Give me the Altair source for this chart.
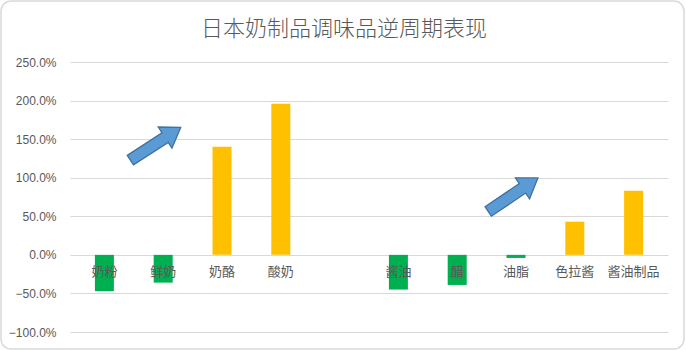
import altair as alt
import pandas as pd

title = "日本奶制品调味品逆周期表现"
categories = ["奶粉", "鲜奶", "奶酪", "酸奶", "", "酱油", "醋", "油脂", "色拉酱", "酱油制品"]
values = [-0.47, -0.36, 1.40, 1.96, None, -0.45, -0.39, -0.04, 0.43, 0.83]
y_ticks = [-1.0, -0.5, 0.0, 0.5, 1.0, 1.5, 2.0, 2.5]

# arrow annotations (position in category index / value units, rotation)
arrow_x = [0.87, 6.95]
arrow_y = [1.44, 0.78]
arrow_angle = [327, 326]

rows = []
for i, (c, v) in enumerate(zip(categories, values)):
    rows.append({"idx": i, "cat": c, "val": v,
                 "color": ("neg" if (v is not None and v < 0) else "pos")})
df = pd.DataFrame(rows)
bars_df = df[df["val"].notna()]
arrows_df = pd.DataFrame({"x": arrow_x, "y": arrow_y, "a": arrow_angle})

FONT = "Noto Sans CJK SC"
xscale = alt.Scale(domain=[-0.5, 9.5], nice=False, zero=False)
yscale = alt.Scale(domain=[-1.0, 2.5], nice=False)
yaxis = alt.Axis(format=".1%", values=y_ticks,
                 grid=True, gridColor="#D9D9D9", gridWidth=1,
                 domain=False, ticks=False, labelColor="#595959",
                 labelFontSize=12, labelPadding=14, title=None,
                 labelFont="Liberation Sans")

base_x = alt.X("idx:Q", scale=xscale, axis=None)

bars = alt.Chart(bars_df).mark_bar(size=19).encode(
    x=base_x,
    y=alt.Y("val:Q", scale=yscale, axis=yaxis),
    y2=alt.datum(0),
    color=alt.Color("color:N", scale=alt.Scale(domain=["neg", "pos"],
                                              range=["#00B050", "#FFC000"]),
                    legend=None),
)

labels = alt.Chart(df[df["cat"] != ""]).mark_text(
    dy=17, fontSize=13, color="#595959", font=FONT
).encode(
    x=base_x,
    y=alt.datum(0, scale=yscale, axis=yaxis),
    text="cat:N",
)

arrow_path = "M-1,-0.19 L0.38,-0.19 L0.38,-0.42 L1,0 L0.38,0.42 L0.38,0.19 L-1,0.19 Z"
arrows = alt.Chart(arrows_df).mark_point(
    shape=arrow_path, size=3600, filled=True, fill="#5B9BD5",
    stroke="#41719C", strokeWidth=1.3, opacity=1
).encode(
    x=alt.X("x:Q", scale=xscale, axis=None),
    y=alt.Y("y:Q", scale=yscale, axis=yaxis),
    angle=alt.Angle("a:Q", scale=None),
)

one = pd.DataFrame({"k": [0]})
border = alt.Chart(one).mark_rect(
    fill=None, stroke="#D9D9D9", strokeWidth=1.5, cornerRadius=10
).encode(
    x=alt.value(-69), x2=alt.value(614), y=alt.value(-61), y2=alt.value(287)
)

title_mark = alt.Chart(one).mark_text(
    text=title, fontSize=22, font=FONT, fontWeight=300, color="#595959",
    align="center", baseline="middle"
).encode(x=alt.value(274), y=alt.value(-33))

chart = alt.layer(bars, labels, arrows, border, title_mark).properties(
    width=598, height=270,
    autosize=alt.AutoSizeParams(type="none"),
    padding={"left": 70, "top": 62, "right": 18, "bottom": 18},
).configure(background="white").configure_view(stroke=None)

chart.save("out.html", embed_options={"renderer": "svg", "actions": False})
